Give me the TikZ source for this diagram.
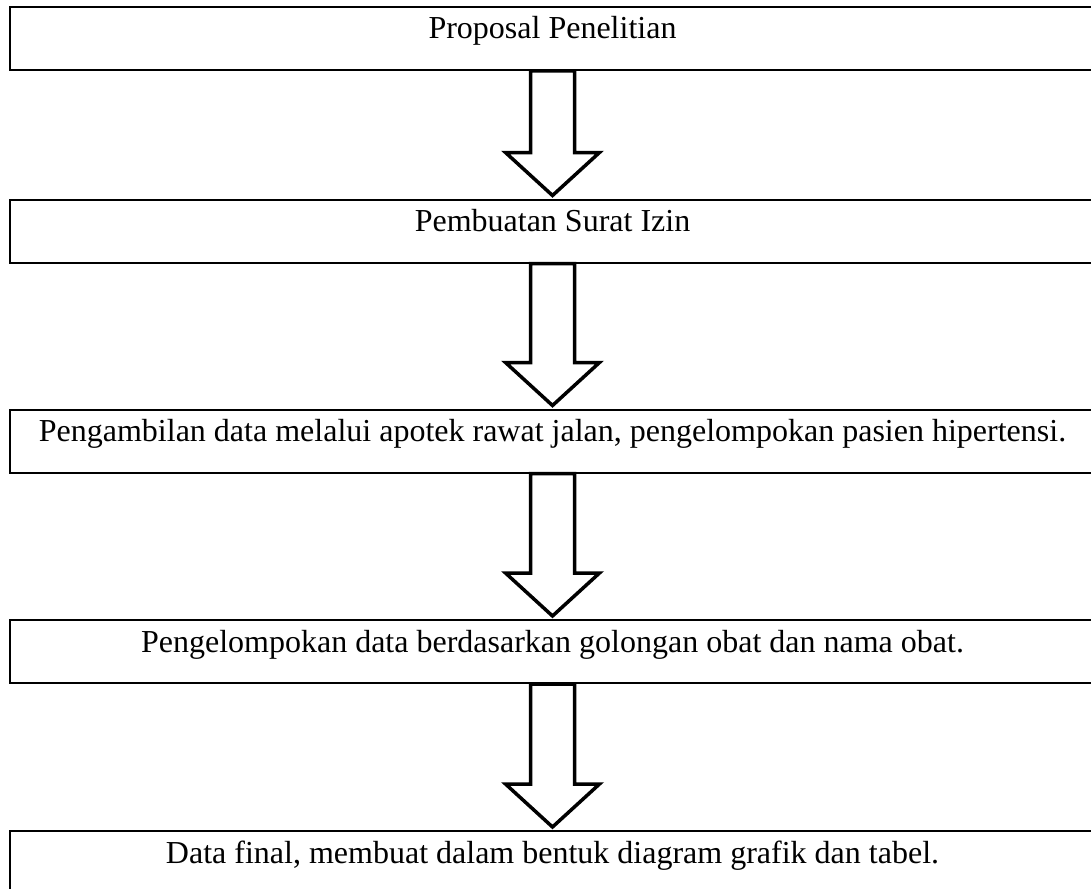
\documentclass[tikz,border=0pt]{standalone}
\usepackage{fontspec}
\setmainfont{Liberation Serif}
\usepackage{tikz}
\usetikzlibrary{positioning,calc}
\tikzset {
    style A/.style={
        draw=black,
        line width=2pt,
        rectangle, % Set the shape as a rectangle
        minimum width=1085pt,
        inner xsep=0pt,
        inner ysep=0pt,
        text height=32pt,
        text depth=31pt,
        align=center,
    },
    style B/.style={
        draw=black,
        fill=white,
        line width=3.5pt,
        miter limit=10,
    },
}
\newcommand{\blockarrow}[2]{%
    \draw[style B] let \p1=(#1.south), \p2=(#2.north) in
        (\x1-22pt,\y1) -- (\x1+22pt,\y1) -- (\x1+22pt,\y2+46pt)
        -- (\x1+47pt,\y2+46pt) -- (\x1,\y2+3pt) -- (\x1-47pt,\y2+46pt)
        -- (\x1-22pt,\y2+46pt) -- cycle;
}

\begin{document}
\begin{tikzpicture}
        [x=1pt, y=-1pt, font=\fontsize{32}{38}\selectfont]

        \useasboundingbox (0,0) rectangle (1091,888);
        \node[style A] at (552.5, 38.5) (proposal) {Proposal Penelitian};
        \node[style A] at (552.5, 231) (izin) {Pembuatan Surat Izin};
        \node[style A] at (552.5, 441) (ambil) {Pengambilan data melalui apotek rawat jalan, pengelompokan pasien hipertensi.};
        \node[style A] at (552.5, 651.5) (kelompok) {Pengelompokan data berdasarkan golongan obat dan nama obat.};
        \node[style A] at (552.5, 862.5) (final) {Data final, membuat dalam bentuk diagram grafik dan tabel.};
        \blockarrow{proposal}{izin}
        \blockarrow{izin}{ambil}
        \blockarrow{ambil}{kelompok}
        \blockarrow{kelompok}{final}
    \end{tikzpicture}
\end{document}
